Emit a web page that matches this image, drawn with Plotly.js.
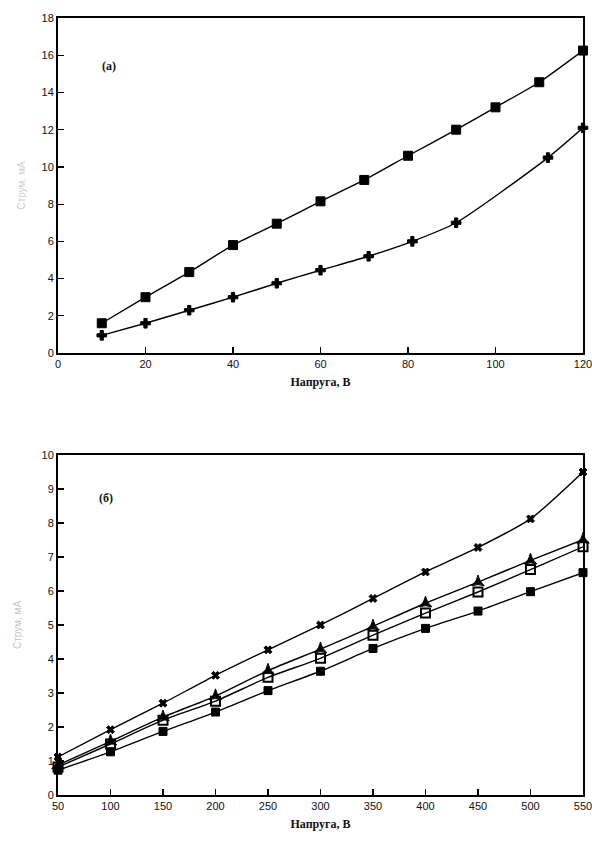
<!DOCTYPE html>
<html>
<head>
<meta charset="utf-8">
<script src="https://cdn.plot.ly/plotly-3.0.1.min.js"></script>
<style>html,body{margin:0;padding:0;background:#fff;}#chart{width:592px;height:848px;}</style>
</head>
<body>
<div id="chart"></div>
<script>
// Panel (a)
const aSqX = [10, 20, 30, 40, 50, 60, 70, 80, 91, 100, 110, 120];
const aSqY = [1.6, 3.0, 4.35, 5.8, 6.95, 8.15, 9.3, 10.6, 12.0, 13.2, 14.55, 16.25];
const aCrX = [10, 20, 30, 40, 50, 60, 71, 81, 91, 112, 120];
const aCrY = [0.95, 1.6, 2.3, 3.0, 3.75, 4.45, 5.2, 6.0, 7.0, 10.5, 12.1];

// Panel (б)
const bX = [50, 100, 150, 200, 250, 300, 350, 400, 450, 500, 550];
const bS1 = [1.12, 1.92, 2.7, 3.52, 4.27, 5.0, 5.78, 6.56, 7.28, 8.12, 9.5];
const bS2 = [0.88, 1.58, 2.29, 2.91, 3.66, 4.29, 4.96, 5.64, 6.26, 6.9, 7.51];
const bS3 = [0.82, 1.5, 2.2, 2.76, 3.46, 4.02, 4.7, 5.35, 5.97, 6.63, 7.3];
const bS4 = [0.73, 1.27, 1.87, 2.44, 3.07, 3.64, 4.31, 4.9, 5.41, 5.98, 6.54];

const xTitle = 'Напруга, В';
const yTitle = 'Струм, мА';

const ln = {color: '#000', width: 1.4, shape: 'spline', smoothing: 0.6};
function tr(x, y, xa, ya, sym, size, extra) {
  return Object.assign({
    x: x, y: y, xaxis: xa, yaxis: ya, type: 'scatter', mode: 'lines+markers',
    line: ln, cliponaxis: false, showlegend: false,
    marker: {symbol: sym, size: size, color: '#000', line: {color: '#000', width: 1}}
  }, extra || {});
}

const data = [
  tr(aSqX, aSqY, 'x', 'y', 'square', 9),
  tr(aCrX, aCrY, 'x', 'y', 'cross', 8),
  tr(bX, bS1, 'x2', 'y2', 'x', 7),
  tr(bX, bS2, 'x2', 'y2', 'star-triangle-up', 9),
  tr(bX, bS3, 'x2', 'y2', 'square-open', 9, {marker: {symbol: 'square-open', size: 9, color: '#000', line: {color: '#000', width: 2}}}),
  tr(bX, bS4, 'x2', 'y2', 'square', 8)
];

const tickFont = {family: 'Liberation Sans, Arial, sans-serif', size: 11, color: '#111'};
const titleFont = {family: 'Liberation Serif, Times New Roman, serif', size: 12, color: '#111', weight: 'bold'};
function axis(extra) {
  return Object.assign({
    showline: true, linecolor: '#000', linewidth: 2, mirror: true,
    ticks: 'inside', ticklen: 6, tickwidth: 1.2, tickcolor: '#000',
    showgrid: false, zeroline: false, tickfont: tickFont, ticklabeloverflow: 'allow'
  }, extra);
}

const layout = {
  width: 592, height: 848,
  margin: {l: 58, r: 9, t: 18, b: 53},
  paper_bgcolor: '#fff', plot_bgcolor: '#fff',
  xaxis: axis({domain: [0, 1], range: [0, 120], tickvals: [0, 20, 40, 60, 80, 100, 120], anchor: 'y',
    title: {text: xTitle, font: titleFont, standoff: 8}}),
  yaxis: axis({domain: [0.5688, 1], range: [0, 18], tickvals: [0, 2, 4, 6, 8, 10, 12, 14, 16, 18], anchor: 'x',
    title: {text: yTitle, font: {family: 'Liberation Sans, sans-serif', size: 10, color: '#d0d0d0'}, standoff: 14}}),
  xaxis2: axis({domain: [0, 1], range: [50, 550], tickvals: [50, 100, 150, 200, 250, 300, 350, 400, 450, 500, 550], anchor: 'y2',
    title: {text: xTitle, font: titleFont, standoff: 8}}),
  yaxis2: axis({domain: [0, 0.4376], range: [0, 10], tickvals: [0, 1, 2, 3, 4, 5, 6, 7, 8, 9, 10], anchor: 'x2',
    title: {text: yTitle, font: {family: 'Liberation Sans, sans-serif', size: 10, color: '#c8c8c8'}, standoff: 18}}),
  annotations: [
    {text: '(а)', xref: 'x domain', yref: 'y domain', x: 0.08, y: 0.885, showarrow: false,
     font: {family: 'Liberation Serif, serif', size: 12, color: '#111', weight: 'bold'}},
    {text: '(б)', xref: 'x2 domain', yref: 'y2 domain', x: 0.075, y: 0.9, showarrow: false,
     font: {family: 'Liberation Serif, serif', size: 12, color: '#111', weight: 'bold'}}
  ]
};

Plotly.newPlot('chart', data, layout, {displayModeBar: false, staticPlot: true});
</script>
</body>
</html>
